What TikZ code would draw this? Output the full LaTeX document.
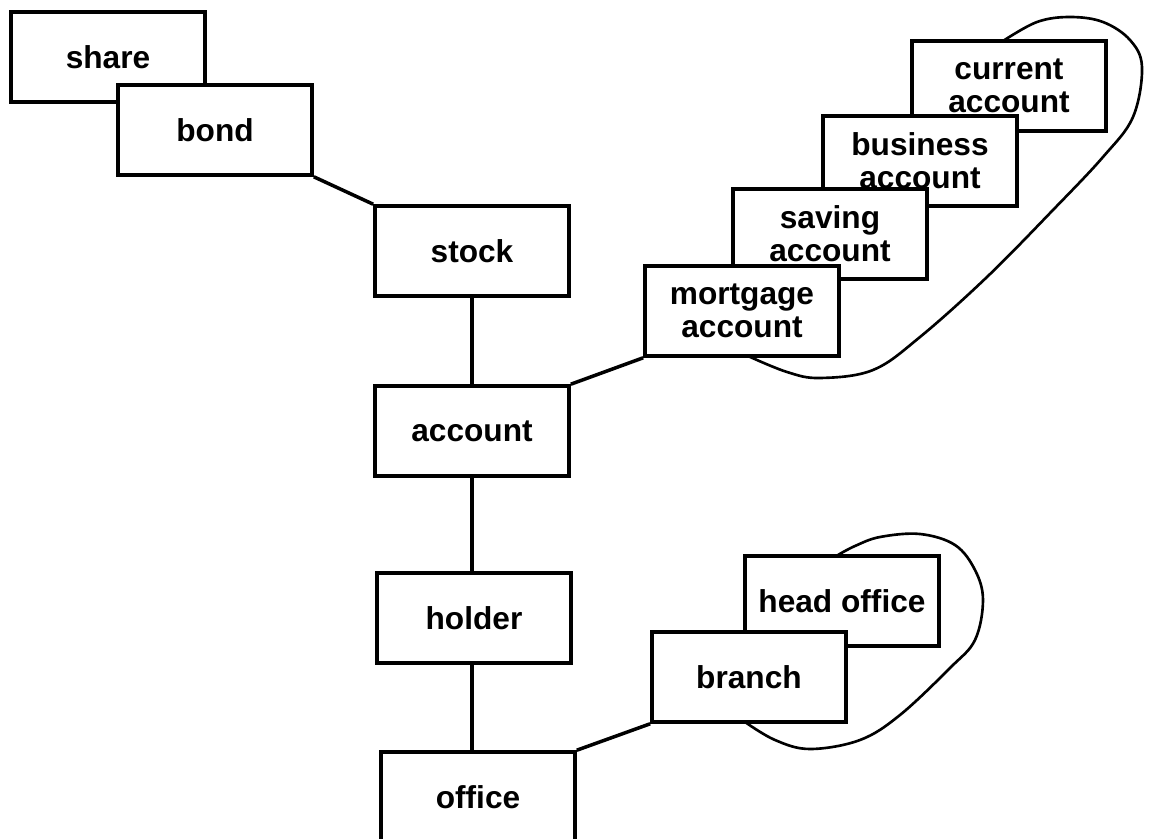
\documentclass[tikz,border=0pt]{standalone}
\usepackage{fontspec}
\setmainfont{Liberation Sans}
\tikzset{
  entity/.style={draw, fill=white, line width=1pt, minimum width=1.94cm,
    minimum height=0.9cm, inner sep=0pt, align=center,
    font=\bfseries\fontsize{9}{9.4}\selectfont},
  link/.style={line width=1pt},
  group/.style={line width=0.75pt}
}
\begin{document}
\begin{tikzpicture}[x=0.01cm, y=-0.01cm]
  \useasboundingbox (0,0) rectangle (1150,839);
  % Main chain
  \node[entity] (share) at (108,57) {share};
  \node[entity] (bond) at (215,130) {bond};
  \node[entity] (stock) at (472,251) {stock};
  \node[entity] (account) at (472,431) {account};
  \node[entity] (holder) at (474,618) {holder};
  \node[entity] (office) at (478,797) {office};
  % Kinds of account
  \node[entity] (current) at (1009,86) {current\\account};
  \node[entity] (business) at (920,161) {business\\account};
  \node[entity] (saving) at (830,234) {saving\\account};
  \node[entity] (mortgage) at (742,311) {mortgage\\account};
  % Kinds of office
  \node[entity] (headoffice) at (842,601) {head office};
  \node[entity] (branch) at (749,677) {branch};
  % Links
  \draw[link] (bond.south east) -- (stock.north west);
  \draw[link] (stock) -- (account);
  \draw[link] (account.south) -- (account.south |- holder.north);
  \draw[link] (account.south |- holder.south) -- (account.south |- office.north);
  \draw[link] (account.north east) -- (mortgage.south west);
  \draw[link] (office.north east) -- (branch.south west);
  % Loops
  \draw[group] plot[smooth, tension=0.6] coordinates {
    (748,356) (787,372) (820,378) (873,370) (920,337) (987,277) (1053,210)
    (1103,157) (1133,117) (1142,67) (1130,40) (1103,22) (1070,17) (1037,22) (1003,41)
  };
  \draw[group] plot[smooth, tension=0.6] coordinates {
    (745,722) (775,740) (810,749) (860,740) (900,715) (950,668) (975,640)
    (983,600) (975,570) (955,545) (920,534) (880,537) (855,546) (838,555)
  };
\end{tikzpicture}
\end{document}
